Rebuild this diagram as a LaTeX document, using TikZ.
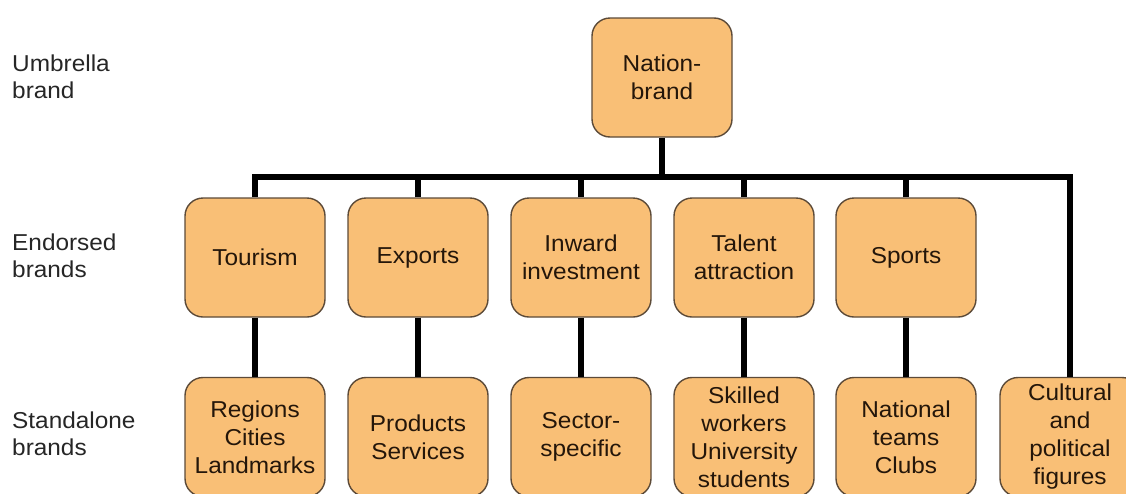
\documentclass[tikz,border=0pt]{standalone}
\usepackage{fontspec}
\setmainfont{Liberation Sans}[FakeStretch=1.06]
\definecolor{boxfill}{HTML}{F9BF76}
\definecolor{boxline}{HTML}{5C4A38}
\definecolor{boxtext}{HTML}{24160A}
\definecolor{labeltext}{HTML}{262626}
\begin{document}
\begin{tikzpicture}[x=1pt,y=-1pt,
  brandbox/.style={draw=boxline, line width=1.4pt, fill=boxfill, rounded corners=18pt,
    minimum width=140pt, minimum height=119pt, inner sep=0pt, align=center,
    text=boxtext, font=\fontsize{23}{28}\selectfont},
  sidelabel/.style={anchor=west, align=left, inner sep=0pt, text=labeltext,
    font=\fontsize{23}{27.5}\selectfont},
  conn/.style={line width=6pt, black}]
\useasboundingbox (0,0) rectangle (1126,493);
\begin{scope}
\clip (0,0) rectangle (1126,493);
% side labels
\node[sidelabel] (lu) at (12,77) {Umbrella\\brand};
\node[sidelabel] (le) at (12,256) {Endorsed\\brands};
\node[sidelabel] (ls) at (12,434) {Standalone\\brands};
% top
\node[brandbox] (nation) at (662,77.5) {Nation-\\brand};
% middle
\node[brandbox] (tour) at (255,257.5) {Tourism};
\node[brandbox] (exp) at (418,257.5) {Exports};
\node[brandbox] (inw) at (581,257.5) {Inward\\investment};
\node[brandbox] (tal) at (744,257.5) {Talent\\attraction};
\node[brandbox] (spo) at (906,257.5) {Sports};
% bottom
\node[brandbox] (reg) at (255,437) {Regions\\Cities\\Landmarks};
\node[brandbox] (prod) at (418,437) {Products\\Services};
\node[brandbox] (sec) at (581,437) {Sector-\\specific};
\node[brandbox] (ski) at (744,437) {Skilled\\workers\\University\\students};
\node[brandbox] (nat) at (906,437) {National\\teams\\Clubs};
\node[brandbox] (cul) at (1070,437) {Cultural\\and\\political\\figures};
% connectors
\coordinate (bar) at (0,177);
\draw[conn] (nation.south) -- (nation.south |- bar);
\draw[conn, line join=miter] (tour.north) -- (tour.north |- bar) -- (cul.north |- bar) -- (cul.north);
\draw[conn] (exp.north) -- (exp.north |- bar);
\draw[conn] (inw.north) -- (inw.north |- bar);
\draw[conn] (tal.north) -- (tal.north |- bar);
\draw[conn] (spo.north) -- (spo.north |- bar);
\draw[conn] (tour.south) -- (reg.north);
\draw[conn] (exp.south) -- (prod.north);
\draw[conn] (inw.south) -- (sec.north);
\draw[conn] (tal.south) -- (ski.north);
\draw[conn] (spo.south) -- (nat.north);
\end{scope}
\end{tikzpicture}
\end{document}
